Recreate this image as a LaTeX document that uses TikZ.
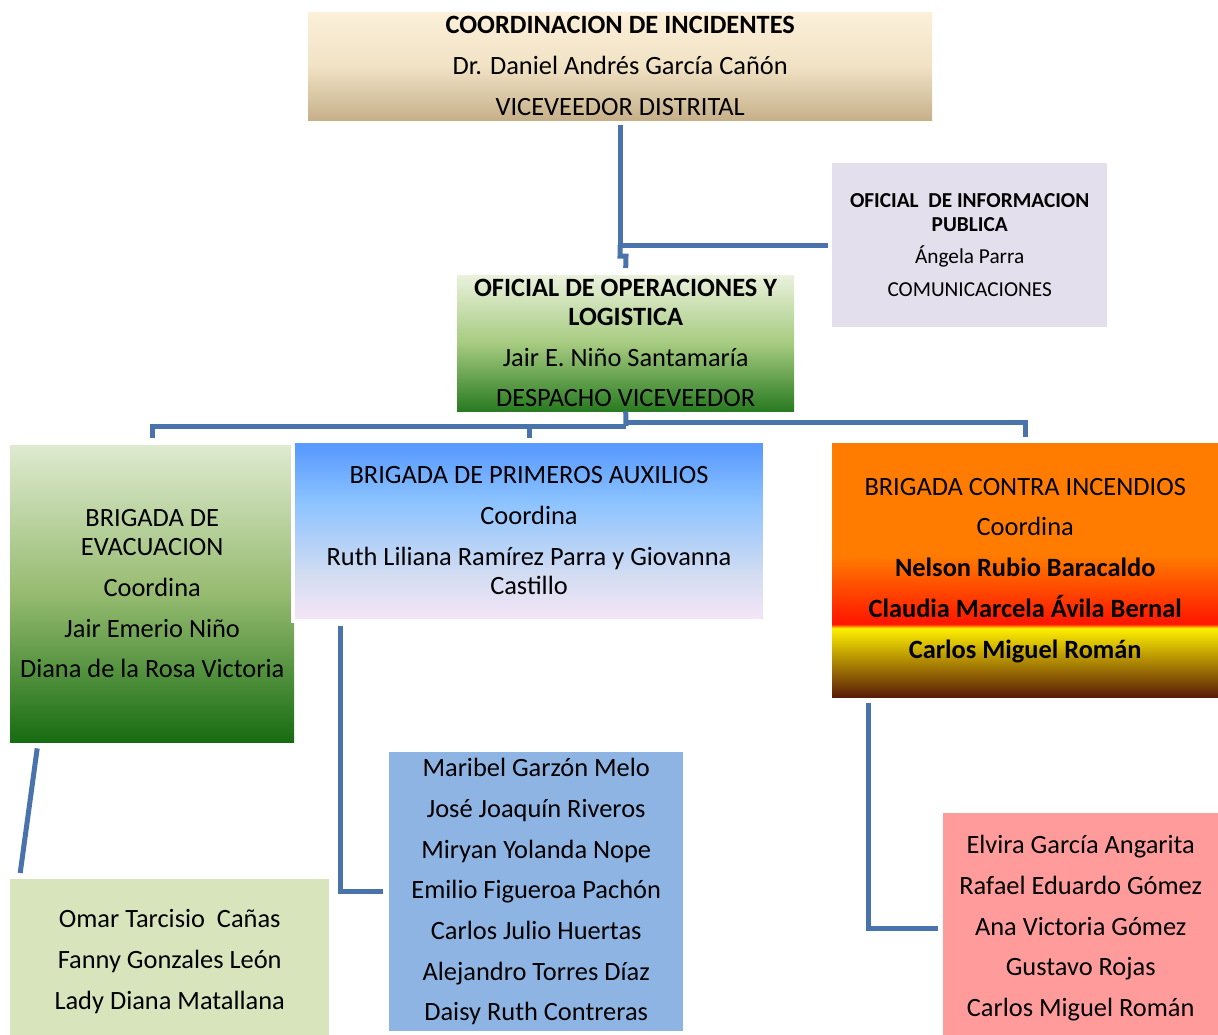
\documentclass[tikz,border=0pt]{standalone}
\usepackage{fontspec}
\setmainfont{Carlito}
\definecolor{lnk}{HTML}{4A73AB}
\definecolor{tbT}{HTML}{FCF0DA}
\definecolor{tbM}{HTML}{F1E2C4}
\definecolor{tbB}{HTML}{C6B08A}
\definecolor{infoc}{HTML}{E4DFEC}
\definecolor{opT}{HTML}{EAF1DC}
\definecolor{opM}{HTML}{A6CB80}
\definecolor{opB}{HTML}{287A20}
\definecolor{evT}{HTML}{DEEAD0}
\definecolor{evM}{HTML}{96BB70}
\definecolor{evB}{HTML}{176C12}
\definecolor{faT}{HTML}{5A9BFF}
\definecolor{faM}{HTML}{8CC3FF}
\definecolor{faL}{HTML}{D2DCF2}
\definecolor{faB}{HTML}{F6E6F6}
\definecolor{fiO}{HTML}{FF7C00}
\definecolor{fiR}{HTML}{FF1500}
\definecolor{fiY}{HTML}{FFF000}
\definecolor{fiD}{HTML}{581A08}
\definecolor{evmc}{HTML}{D8E4BC}
\definecolor{famc}{HTML}{8EB4E3}
\definecolor{fimc}{HTML}{FF9B9B}
\pgfdeclareverticalshading{topsh}{100bp}{color(0bp)=(tbB); color(25bp)=(tbB); color(50bp)=(tbM); color(75bp)=(tbT); color(100bp)=(tbT)}
\pgfdeclareverticalshading{opsh}{100bp}{color(0bp)=(opB); color(25bp)=(opB); color(50bp)=(opM); color(75bp)=(opT); color(100bp)=(opT)}
\pgfdeclareverticalshading{evsh}{100bp}{color(0bp)=(evB); color(25bp)=(evB); color(50bp)=(evM); color(75bp)=(evT); color(100bp)=(evT)}
\pgfdeclareverticalshading{fash}{100bp}{color(0bp)=(faB); color(25bp)=(faB); color(38bp)=(faL); color(58bp)=(faM); color(73bp)=(faT); color(100bp)=(faT)}
\pgfdeclareverticalshading{fish}{100bp}{color(0bp)=(fiD); color(25bp)=(fiD); color(38.6bp)=(fiY); color(39.4bp)=(fiR); color(53bp)=(fiO); color(75bp)=(fiO); color(100bp)=(fiO)}
\newcommand\bigtxt{\fontsize{26.4}{29}\selectfont}
\newcommand\smalltxt{\fontsize{21.3}{24}\selectfont}
\tikzset{
  box/.style={anchor=north west, inner sep=0pt, align=center, font=\bigtxt, text=black},
  conn/.style={draw=lnk, line width=5pt}
}
\begin{document}
\begin{tikzpicture}[x=1pt,y=-1pt]
\useasboundingbox (0,0) rectangle (1218,1035);
% boxes
\node[box, shading=topsh, minimum width=624pt, minimum height=108pt] (top) at (308,12)
  {\textbf{COORDINACION DE INCIDENTES}\\[12pt] Dr. Daniel Andrés García Cañón\\[12pt] VICEVEEDOR DISTRITAL};
\node[box, fill=infoc, font=\smalltxt, minimum width=275pt, minimum height=164pt] (info) at (832,163)
  {\textbf{OFICIAL\ \ DE INFORMACION}\\ \textbf{PUBLICA}\\[8pt] Ángela Parra\\[9pt] COMUNICACIONES};
\node[box, shading=opsh, minimum width=337pt, minimum height=136pt] (ops) at (457,275)
  {\textbf{OFICIAL DE OPERACIONES Y}\\ \textbf{LOGISTICA}\\[12pt] Jair E. Niño Santamaría\\[11pt] DESPACHO VICEVEEDOR};
\node[box, shading=evsh, minimum width=284pt, minimum height=297pt] (evac) at (10,445)
  {BRIGADA DE\\ EVACUACION\\[12pt] Coordina\\[12pt] Jair Emerio Niño\\[11pt] Diana de la Rosa Victoria};
\node[box, shading=fash, draw=white, line width=4pt, minimum width=472pt, minimum height=180pt] (fa) at (291,439)
  {BRIGADA DE PRIMEROS AUXILIOS\\[12pt] Coordina\\[12pt] Ruth Liliana Ramírez Parra y Giovanna\\ Castillo};
\node[box, shading=fish, minimum width=386pt, minimum height=254pt] (fire) at (832,443)
  {BRIGADA CONTRA INCENDIOS\\[11pt] Coordina\\[12pt] \textbf{Nelson Rubio Baracaldo}\\[12pt] \textbf{Claudia Marcela Ávila Bernal}\\[12pt] \textbf{Carlos Miguel Román}};
\node[box, fill=evmc, minimum width=319pt, minimum height=164pt] (evacm) at (10,879)
  {Omar Tarcisio\ \ Cañas\\[12pt] Fanny Gonzales León\\[12pt] Lady Diana Matallana};
\node[box, fill=famc, minimum width=294pt, minimum height=279pt] (fam) at (389,752)
  {Maribel Garzón Melo\\[11.7pt] José Joaquín Riveros\\[11.7pt] Miryan Yolanda Nope\\[11.7pt] Emilio Figueroa Pachón\\[11.7pt] Carlos Julio Huertas\\[11.7pt] Alejandro Torres Díaz\\[11.7pt] Daisy Ruth Contreras};
\node[box, fill=fimc, minimum width=275pt, minimum height=230pt] (firem) at (943,813)
  {Elvira García Angarita\\[11.7pt] Rafael Eduardo Gómez\\[11.7pt] Ana Victoria Gómez\\[11.7pt] Gustavo Rojas\\[11.7pt] Carlos Miguel Román};
% connectors
\coordinate (j1) at (top.south |- info.west);
\coordinate (j2) at (620,256);
\coordinate (j3) at (626,256);
\coordinate (busL) at (626,426);
\coordinate (busR) at (626,422);
\draw[conn] ([yshift=-5pt]top.south) |- ([xshift=-4pt]info.west);
\draw[conn] (j1) -- (j2) -- (j3) -- ([yshift=7pt]ops.north);
\draw[conn] (ops.south) -- (busL);
\draw[conn] ([yshift=7pt]evac.north) |- (busL);
\draw[conn] (busR) -| ([yshift=6pt]fire.north);
\draw[conn] (busL -| fa.north) -- ([yshift=1pt]fa.north);
\draw[conn] ([shift={(-115pt,-6pt)}]evac.south) -- ([shift={(-149.5pt,6pt)}]evacm.north);
\draw[conn] ([shift={(-189pt,-3pt)}]fa.south) |- ([xshift=-6pt]fam.west);
\draw[conn] ([shift={(-157pt,-6pt)}]fire.south) |- ([xshift=-5pt]firem.west);
\end{tikzpicture}
\end{document}
